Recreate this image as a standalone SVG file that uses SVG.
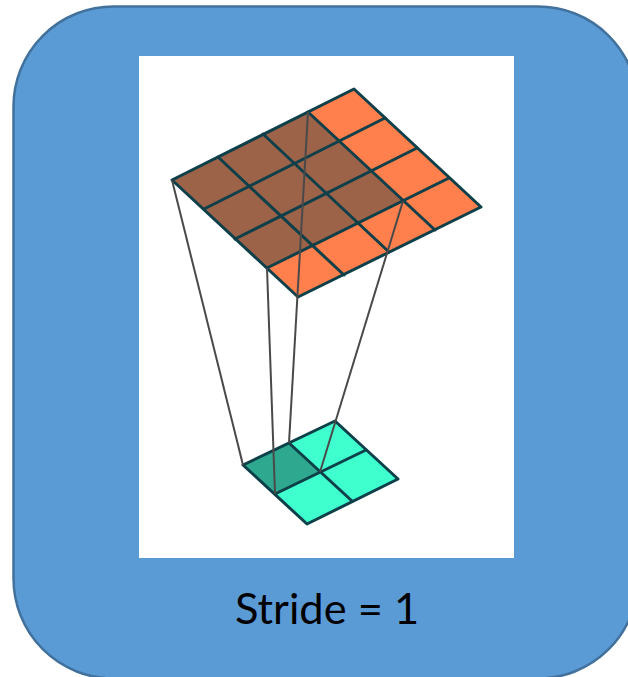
<svg xmlns="http://www.w3.org/2000/svg" width="628" height="677" viewBox="0 0 628 677">
<style>
.frame{fill:#5b9bd5;stroke:#41719c;stroke-width:2.5}
.grid{stroke:#0f3f4a;stroke-width:3;stroke-linejoin:round;stroke-linecap:round;fill:none}
.top{fill:#ff7f4d}
.topdark{fill:#9c6349}
.bot{fill:#3fffcf}
.botdark{fill:#2ea98f}
.conn{stroke:#4a4a4a;stroke-width:2;fill:none}
.label{font-family:Lato,"Liberation Sans",sans-serif;font-size:43.400px;fill:#000}
</style>
<defs><filter id="soft" x="-5%" y="-5%" width="110%" height="110%"><feGaussianBlur stdDeviation="0.6"/></filter></defs>
<g id="frame"><rect class="frame" x="13.500" y="6.500" width="624.500" height="672" rx="100" ry="100"/></g>
<g id="panel"><rect x="139" y="56" width="375" height="502" fill="#fff"/></g>
<g id="feature-map" filter="url(#soft)">
<polygon class="top" points="172,180 354,89 481,207 298,297"/>
<polygon class="topdark" points="172,180 308,112 403,201 267,268"/>
<g class="grid">
<polygon points="172,180 354,89 481,207 298,297"/>
<path d="M218,157 L344,275 M263,134 L389,252 M308,112 L435,230"/>
<path d="M204,209 L385,118 M235,239 L417,148 M267,268 L449,178"/>
</g>
</g>
<g id="input-map" filter="url(#soft)">
<polygon class="bot" points="243,465 335,421 398,479 307,524"/>
<polygon class="botdark" points="243,465 289,443 320,472 275,494"/>
<g class="grid">
<polygon points="243,465 335,421 398,479 307,524"/>
<path d="M289,443 L352,501 M275,494 L366,450"/>
</g>
</g>
<g id="connectors" filter="url(#soft)">
<path class="conn" d="M172,180 L243,465"/>
<path class="conn" d="M267,268 L275,494"/>
<path class="conn" d="M308,112 L289,443"/>
<path class="conn" d="M403,201 L320,472"/>
</g>
<g id="caption"><text class="label" x="235" y="624">Stride = 1</text></g>
</svg>
